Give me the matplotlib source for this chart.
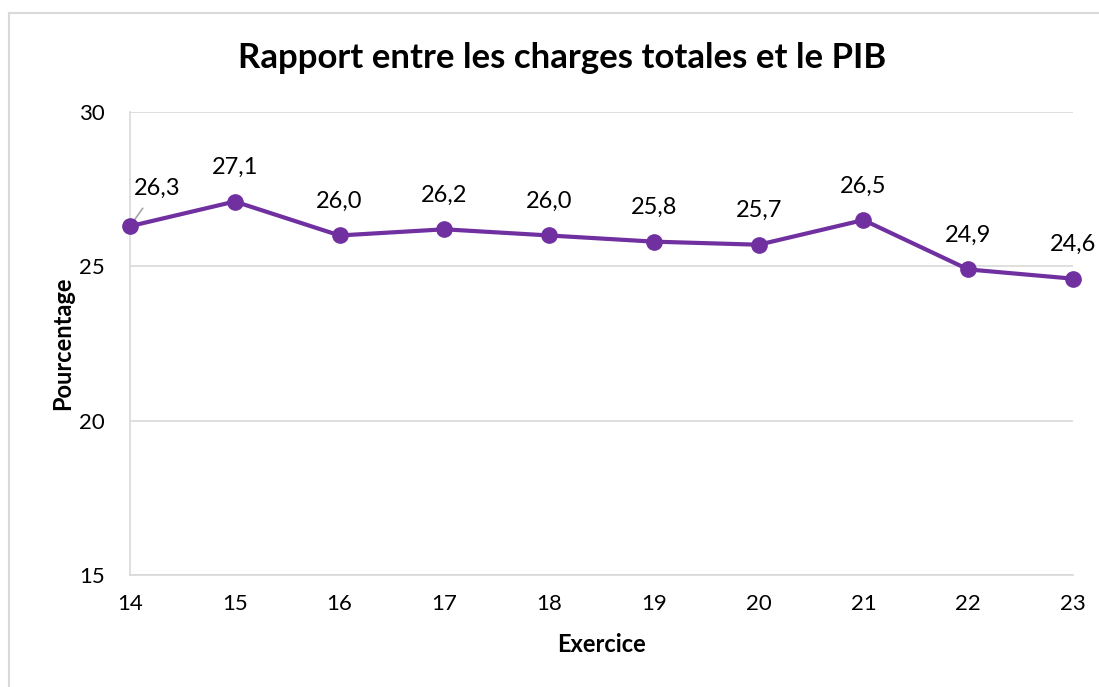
import matplotlib
matplotlib.use("Agg")
import matplotlib.pyplot as plt
from matplotlib.lines import Line2D

years = ["14", "15", "16", "17", "18", "19", "20", "21", "22", "23"]
values = [26.3, 27.1, 26.0, 26.2, 26.0, 25.8, 25.7, 26.5, 24.9, 24.6]
labels = ["26,3", "27,1", "26,0", "26,2", "26,0", "25,8", "25,7", "26,5", "24,9", "24,6"]
yticks = [15, 20, 25, 30]

plt.rcParams['font.family'] = ['Lato', 'DejaVu Sans']
W, H = 1099, 687
fig = plt.figure(figsize=(W/100, H/100), dpi=100)
ax = fig.add_axes([130/W, (H-575)/H, (1073-130)/W, (575-112)/H])

x = list(range(len(years)))
color = '#7030A0'
ax.plot(x, values, color=color, lw=3, marker='o', ms=11, zorder=3, clip_on=False)

for i, (v, lab) in enumerate(zip(values, labels)):
    if i == 0:
        ax.annotate(lab, xy=(i, v), xytext=(27, 38), textcoords='offset pixels',
                    ha='center', va='center', fontsize=17, color='black',
                    arrowprops=dict(arrowstyle='-', color='#A6A6A6', lw=1.2,
                                    shrinkA=6, shrinkB=0), zorder=2)
    else:
        ax.annotate(lab, xy=(i, v), xytext=(0, 34), textcoords='offset pixels',
                    ha='center', va='center', fontsize=17, color='black')

ax.set_xlim(0, len(years)-1)
ax.set_ylim(15, 30)
ax.set_yticks(yticks)
ax.set_xticks(x)
ax.set_xticklabels(years)
ax.tick_params(length=0, labelsize=16, pad=14)
ax.tick_params(axis='y', pad=18)
ax.grid(axis='y', color='#D9D9D9', lw=1.2)
ax.set_axisbelow(True)
for s in ['top', 'right']:
    ax.spines[s].set_visible(False)
for s in ['left', 'bottom']:
    ax.spines[s].set_color('#D9D9D9')
    ax.spines[s].set_linewidth(1.2)

ax.set_xlabel('Exercice', fontsize=17, fontweight='bold', labelpad=13)
ax.set_ylabel('Pourcentage', fontsize=17, fontweight='bold', labelpad=4)
fig.text(562/W, 1-58/H, 'Rapport entre les charges totales et le PIB',
         ha='center', va='center', fontsize=25, fontweight='bold')

# outer chart border
fig.add_artist(Line2D([9/W, 9/W], [0, 1-13/H], color='#D9D9D9', lw=1.5))
fig.add_artist(Line2D([9/W, 1], [1-13/H, 1-13/H], color='#D9D9D9', lw=1.5))

fig.savefig('out.png', dpi=100)
